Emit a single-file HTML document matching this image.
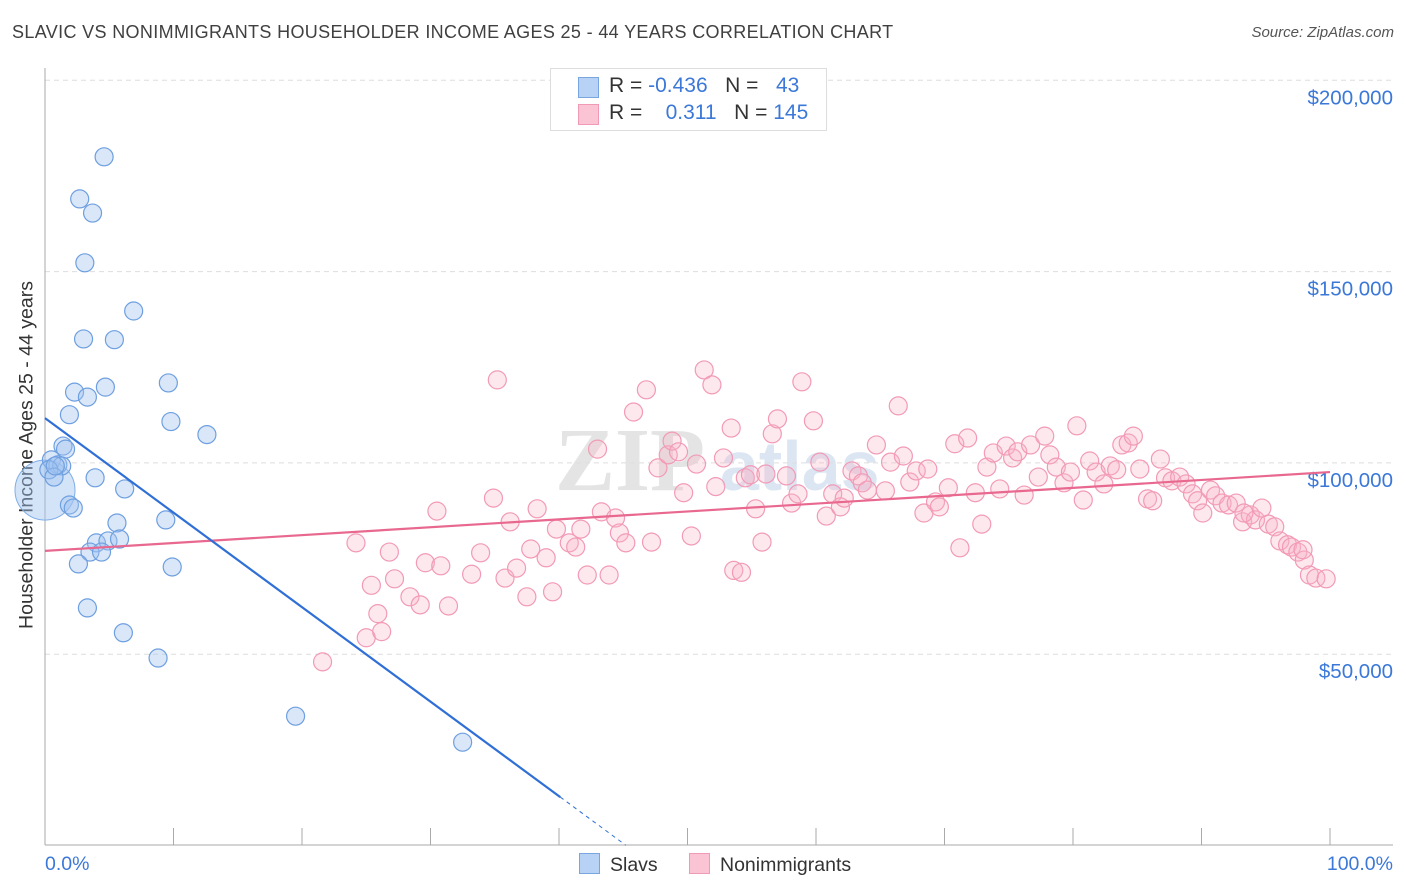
<!DOCTYPE html>
<html><head><meta charset="utf-8"><style>
body{margin:0;background:#fff;font-family:"Liberation Sans",sans-serif;}
#wrap{position:relative;width:1406px;height:892px;overflow:hidden;}
.t{position:absolute;white-space:nowrap;}
</style></head><body>
<div id="wrap">
<div class="t" style="left:12px;top:22px;font-size:18px;letter-spacing:0.35px;color:#404040;">SLAVIC VS NONIMMIGRANTS HOUSEHOLDER INCOME AGES 25 - 44 YEARS CORRELATION CHART</div>
<div class="t" style="right:12px;top:24px;font-size:15px;color:#555;font-style:italic;">Source: ZipAtlas.com</div>
<div class="t" style="left:27px;top:455px;font-size:19.5px;color:#333;transform:translate(-50%,-50%) rotate(-90deg);">Householder Income Ages 25 - 44 years</div>
<svg id="plot" width="1406" height="892" style="position:absolute;left:0;top:0"></svg>
<div style="position:absolute;left:550px;top:68px;width:275px;height:61px;border:1px solid #ddd;background:#fff;font-size:21px;">
 <div style="position:absolute;left:27px;top:8px;width:19px;height:19px;background:#b7d2f5;border:1px solid #7aa6e0;"></div>
 <div class="t" style="left:58px;top:5px;color:#333;">R = <span style="color:#3b78d8">-0.436</span>&nbsp;&nbsp;&nbsp;N = &nbsp;&nbsp;<span style="color:#3b78d8">43</span></div>
 <div style="position:absolute;left:27px;top:35px;width:19px;height:19px;background:#fac4d4;border:1px solid #f09ab5;"></div>
 <div class="t" style="left:58px;top:32px;color:#333;">R = &nbsp;&nbsp;&nbsp;<span style="color:#3b78d8">0.311</span>&nbsp;&nbsp;&nbsp;N = <span style="color:#3b78d8">145</span></div>
</div>
<div style="position:absolute;left:579px;top:853px;font-size:19.5px;color:#333;">
 <span style="display:inline-block;width:19px;height:19px;background:#b7d2f5;border:1px solid #7aa6e0;vertical-align:-3px;margin-right:10px;"></span>Slavs</div>
<div style="position:absolute;left:689px;top:853px;font-size:19.5px;color:#333;">
 <span style="display:inline-block;width:19px;height:19px;background:#fac4d4;border:1px solid #f09ab5;vertical-align:-3px;margin-right:10px;"></span>Nonimmigrants</div>
</div>
<script>
const yTicks=[50000,100000,150000,200000];
const yTickLabels=["$50,000","$100,000","$150,000","$200,000"];
const slavX=[4.6,2.7,3.7,3.1,6.9,3.0,5.4,2.3,3.3,4.7,9.6,1.9,9.8,12.6,1.4,1.6,0.5,1.0,1.3,0.3,0.7,3.9,6.2,1.9,2.2,5.6,9.4,4.0,4.9,5.8,3.5,4.4,2.6,9.9,3.3,6.1,8.8,19.5,32.5,0.8];
const slavY=[180.0,169.0,165.3,152.3,139.7,132.4,132.2,118.5,117.2,119.8,120.9,112.6,110.8,107.4,104.4,103.6,100.8,99.5,99.2,98.2,96.3,96.1,93.2,89.0,88.2,84.3,85.1,79.1,79.6,80.1,76.7,76.7,73.6,72.8,62.1,55.6,49.0,33.8,27.0,99.2];
const slavBigX=[0];const slavBigY=[92.9];
const nonX=[21.6,24.2,25.0,25.4,25.9,26.2,26.8,27.2,28.4,29.2,29.6,30.5,30.8,31.4,33.2,33.9,34.9,35.2,35.8,36.2,36.7,37.5,37.8,38.3,39.0,39.5,39.8,40.8,41.3,41.7,42.2,43.0,43.3,44.4,44.7,45.2,43.9,45.8,46.8,47.2,47.7,48.5,48.8,49.3,49.7,50.3,50.7,51.3,51.9,52.2,52.8,53.4,53.6,54.2,54.5,54.9,55.3,55.8,56.1,56.6,57.0,57.7,58.1,58.6,58.9,59.8,60.3,60.8,61.3,61.9,62.2,62.8,63.3,63.6,64.0,64.7,65.4,65.8,66.4,66.8,67.3,67.8,68.4,68.7,69.3,69.6,70.3,70.8,71.2,71.8,72.4,72.9,73.3,73.8,74.3,74.8,75.3,75.7,76.2,76.7,77.3,77.8,78.2,78.7,79.3,79.8,80.3,80.8,81.3,81.8,82.4,82.9,83.4,83.8,84.3,84.7,85.2,85.8,86.2,86.8,87.2,87.7,88.3,88.8,89.3,89.7,90.1,90.7,91.1,91.6,92.1,92.7,93.2,93.8,94.2,94.7,95.2,95.7,96.1,96.7,97.0,97.5,98.0,98.4,98.9,99.7,97.9,93.3];
const nonY=[48.0,79.1,54.3,68.0,60.6,55.9,76.7,69.7,65.0,62.9,73.9,87.4,73.1,62.6,70.9,76.5,90.8,121.7,69.9,84.6,72.5,65.0,77.5,88.0,75.2,66.3,82.7,79.1,78.0,82.7,70.7,103.6,87.2,85.6,81.7,79.1,70.7,113.3,119.1,79.3,98.7,102.1,105.7,102.9,92.2,80.9,99.7,124.3,120.4,93.8,101.3,109.1,71.9,71.4,96.1,96.9,88.0,79.3,97.1,107.6,111.5,96.6,89.5,91.9,121.2,111.0,100.2,86.1,91.9,88.5,90.8,97.9,96.6,94.8,92.9,104.7,92.7,100.2,114.9,101.8,95.0,97.9,86.9,98.4,89.8,88.5,93.5,105.0,77.8,106.5,92.2,84.0,98.9,102.6,93.2,104.4,101.3,102.9,91.6,104.7,96.3,107.0,102.1,98.9,94.8,97.6,109.7,90.3,100.5,97.6,94.5,99.2,98.2,104.7,105.2,107.0,98.4,90.6,90.1,101.0,96.1,95.3,96.3,94.5,91.9,90.1,86.9,92.9,91.4,89.5,89.0,89.5,84.6,86.4,85.1,88.2,84.0,83.3,79.6,78.6,78.0,76.7,74.6,70.7,69.9,69.7,77.3,86.9];
const slavTrend=[111.7,-2.47];
const nonTrend=[77.0,0.206];
const slavTrendSolidEnd=[40.1];const slavTrendDashEnd=[45.2];

const X0=45,X1=1330,YB=845.5,PXPER50K=191.3;
const sx=p=>X0+(X1-X0)*p/100;
const sy=v=>YB-v/50000*PXPER50K;
const syk=k=>sy(k*1000);
const svg=document.getElementById('plot');const NS='http://www.w3.org/2000/svg';
function mk(tag,attrs){const e=document.createElementNS(NS,tag);for(const k in attrs)e.setAttribute(k,attrs[k]);svg.appendChild(e);return e;}
let w=mk('text',{x:555,y:490,'font-size':90,'font-family':'Liberation Serif,serif',fill:'#e4e4e4','font-weight':'bold'});w.textContent='ZIP';


let w2=mk('text',{x:720,y:490,'font-size':70,'font-family':'Liberation Sans,sans-serif',fill:'#dce6f3','font-weight':'bold'});w2.textContent='atlas';


yTicks.forEach((v,i)=>{
 const g=mk('line',{x1:45,x2:1393,y1:sy(v),y2:sy(v),stroke:'#dddddd','stroke-dasharray':'5,4','stroke-width':1});
 
 
 const t=mk('text',{x:1393,y:sy(v)+24,'text-anchor':'end','font-size':20.5,fill:'#3b78d8','font-family':'Liberation Sans,sans-serif'});t.textContent=yTickLabels[i];
 
 
});
let ax=mk('line',{x1:45,x2:45,y1:68,y2:845,stroke:'#aaa'});


let axx=mk('line',{x1:45,x2:1393,y1:845,y2:845,stroke:'#aaa'});


for(let i=0;i<=10;i++){const t=mk('line',{x1:sx(i*10),x2:sx(i*10),y1:828,y2:845,stroke:'#aaa'});
 
 }
const xl=mk('text',{x:45,y:870,'font-size':19.5,fill:'#3b78d8','font-family':'Liberation Sans,sans-serif'});xl.textContent='0.0%';


const xr=mk('text',{x:1393,y:870,'text-anchor':'end','font-size':19.5,fill:'#3b78d8','font-family':'Liberation Sans,sans-serif'});xr.textContent='100.0%';


nonX.forEach((x,i)=>{const c=mk('circle',{cx:sx(x),cy:syk(nonY[i]),r:9,fill:'rgba(248,180,200,0.3)',stroke:'#f29ab6','stroke-width':1.2});
 
 });
slavBigX.forEach((x,i)=>{const c=mk('circle',{cx:sx(x),cy:syk(slavBigY[i]),r:30,fill:'rgba(160,196,240,0.45)',stroke:'#80aee6','stroke-width':1});
 
 });
slavX.forEach((x,i)=>{const c=mk('circle',{cx:sx(x),cy:syk(slavY[i]),r:9,fill:'rgba(160,196,240,0.4)',stroke:'#6e9fe0','stroke-width':1.2});
 
 });
const nl=mk('line',{x1:sx(0),y1:syk(nonTrend[0]),x2:sx(100),y2:syk(nonTrend[0]+nonTrend[1]*100),stroke:'#e8688f','stroke-width':2.2});


const e1=slavTrendSolidEnd[0],e2=slavTrendDashEnd[0];
const bl=mk('line',{x1:sx(0),y1:syk(slavTrend[0]),x2:sx(e1),y2:syk(slavTrend[0]+slavTrend[1]*e1),stroke:'#2f6fd6','stroke-width':2.2});


const bd=mk('line',{x1:sx(e1),y1:syk(slavTrend[0]+slavTrend[1]*e1),x2:sx(e2),y2:syk(slavTrend[0]+slavTrend[1]*e2),stroke:'#2f6fd6','stroke-width':1,'stroke-dasharray':'4,4'});


</script>
</body></html>
